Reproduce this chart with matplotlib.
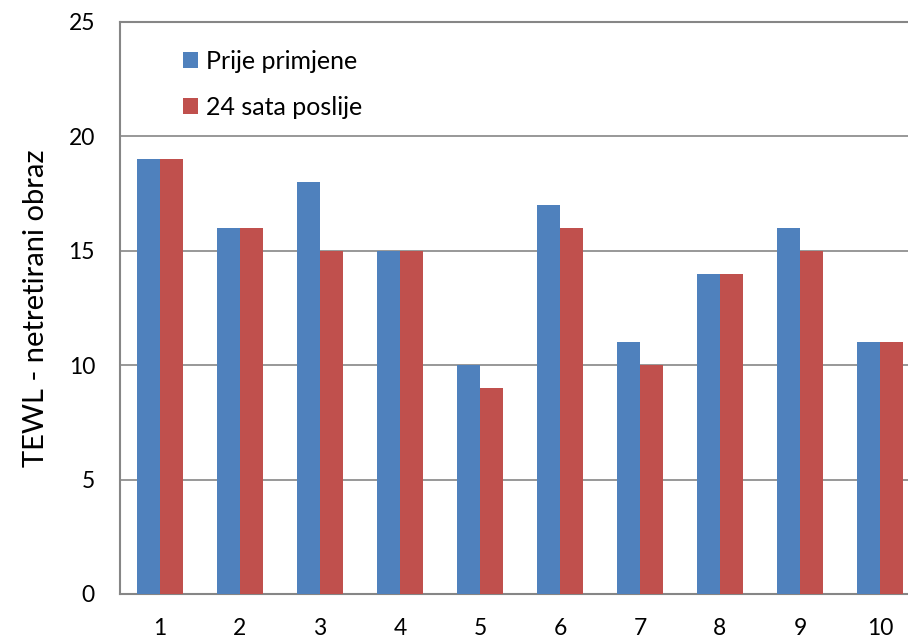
import numpy as np
import matplotlib.pyplot as plt

plt.rcParams['font.family'] = ['Lato', 'DejaVu Sans']

##
# Data
##
subjects = ['1', '2', '3', '4', '5', '6', '7', '8', '9', '10']
before = [19, 16, 18, 15, 10, 17, 11, 14, 16, 11]   # Prije primjene
after = [19, 16, 15, 15, 9, 16, 10, 14, 15, 11]     # 24 sata poslije
labels = ['Prije primjene', '24 sata poslije']

blue = '#4f81bd'
red = '#c0504d'
frame = '#868686'

fig = plt.figure(figsize=(9.08, 6.41), dpi=100)
ax = fig.add_axes([120 / 908, 47 / 641, 800 / 908, 572 / 641])

x = np.arange(1, len(subjects) + 1)
w = 0.2857
ax.bar(x - w / 2, before, w, color=blue, label=labels[0], zorder=3)
ax.bar(x + w / 2, after, w, color=red, label=labels[1], zorder=3)

ax.set_xlim(0.5, 10.5)
ax.set_ylim(0, 25)
ax.set_yticks([0, 5, 10, 15, 20, 25])
ax.set_xticks(x)
ax.set_xticklabels(subjects)
ax.tick_params(length=0, labelsize=16.5)
ax.tick_params(axis='x', pad=17)
ax.tick_params(axis='y', pad=18)
ax.yaxis.grid(True, color=frame, linewidth=1.2, zorder=0)
for s in ax.spines.values():
    s.set_color(frame)
    s.set_linewidth(1.5)

ax.set_ylabel('TEWL - netretirani obraz', fontsize=21, labelpad=14)

ax.legend(loc='upper left', bbox_to_anchor=(0.051, 0.99), frameon=False,
          fontsize=18, handlelength=0.6, handleheight=0.6, handletextpad=0.3,
          labelspacing=0.9)

fig.savefig('out.png', dpi=100)
